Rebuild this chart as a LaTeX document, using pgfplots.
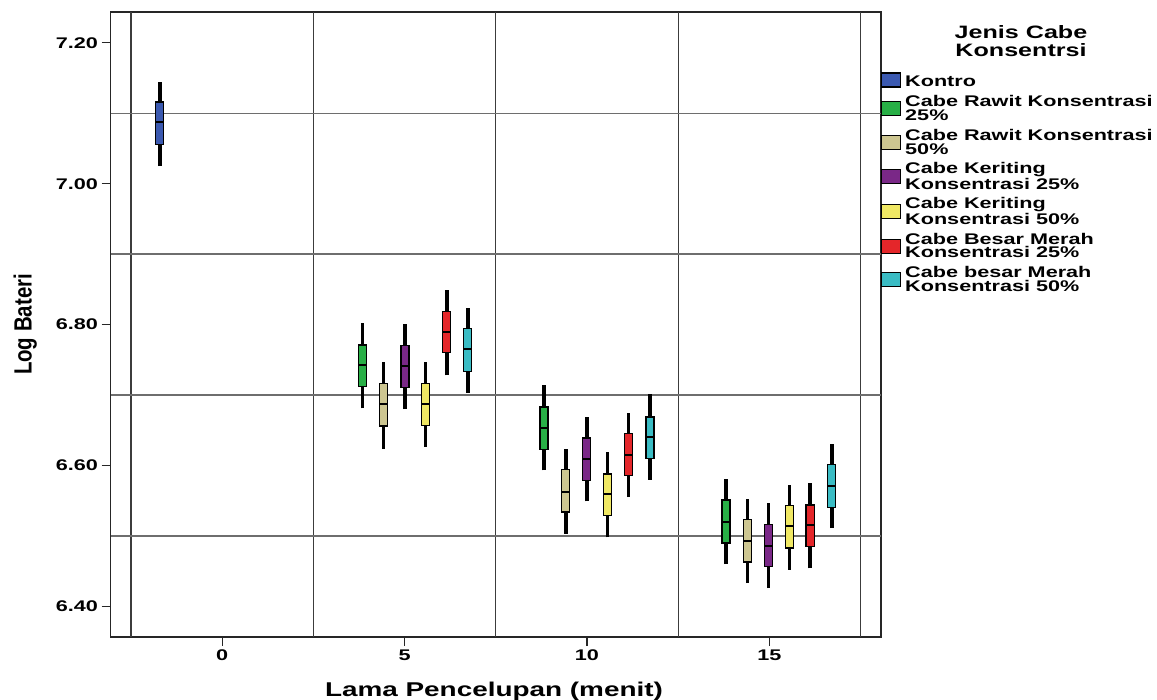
\documentclass[border=0pt]{standalone}
\usepackage{pgfplots}
\pgfplotsset{compat=1.18}
\usepackage{fontspec}
\setmainfont{Liberation Sans}[FakeStretch=1.4]
\newfontfamily\ylfont{Liberation Sans}[FakeStretch=0.82]
\definecolor{cBlue}{RGB}{59,89,176}
\definecolor{cGreen}{RGB}{40,175,70}
\definecolor{cTan}{RGB}{205,198,145}
\definecolor{cPurple}{RGB}{122,40,135}
\definecolor{cYellow}{RGB}{240,232,100}
\definecolor{cRed}{RGB}{228,38,42}
\definecolor{cCyan}{RGB}{58,188,196}
\definecolor{hgrid}{RGB}{110,110,110}
\definecolor{vgrid}{RGB}{60,60,60}
\lineskiplimit=-10pt
\pgfplotsset{
  sw/.style={legend image code/.code={\draw[black,line width=1.2bp,fill=#1] (0bp,-7bp) rectangle (18.5bp,7bp);}},
}
% box: position, lower whisker, lower quartile, median, upper quartile, upper whisker, colour
\newcommand\bxp[7]{%
  \pgfmathsetmacro\xa{#1-0.11}\pgfmathsetmacro\xb{#1+0.11}%
  \edef\tmp{%
    \noexpand\addplot[black, line width=3.5bp, forget plot] coordinates {(#1,#2) (#1,#6)};
    \noexpand\addplot[fill=#7, draw=black, line width=1.2bp, forget plot] coordinates {(\xa,#3) (\xb,#3) (\xb,#5) (\xa,#5)} -- cycle;
    \noexpand\addplot[black, line width=2bp, forget plot] coordinates {(\xa,#4) (\xb,#4)};
  }\tmp}
\begin{document}
\begin{tikzpicture}
\useasboundingbox (0,0) rectangle (1157bp,700bp);
\begin{axis}[
  at={(110.5bp,63bp)}, anchor=south west,
  scale only axis, width=770.5bp, height=625bp,
  xmin=-3.06, xmax=18.06, ymin=6.3566, ymax=7.2438,
  xtick={0,5,10,15}, ytick={6.4,6.6,6.8,7.0,7.2},
  /pgf/number format/assume math mode=true,
  yticklabel style={/pgf/number format/.cd, fixed, fixed zerofill, precision=2},
  ticklabel style={font=\bfseries\fontsize{15.5}{15.5}\selectfont},
  tick align=outside, tick pos=left, major tick length=9bp,
  tick style={black!85, line width=1.2bp},
  axis line style={black!85, line width=1.4bp},
  extra y ticks={6.5,6.7,6.9,7.1}, extra y tick labels={},
  extra y tick style={grid=major, major grid style={draw=hgrid, line width=1.4bp}, major tick length=0pt},
  extra x ticks={-2.5,2.5,7.5,12.5,17.5}, extra x tick labels={},
  extra x tick style={grid=major, major grid style={draw=vgrid, line width=1.3bp}, major tick length=0pt},
  xlabel={Lama Pencelupan (menit)},
  xlabel style={at={(axis description cs:0.4977,-0.0955)}, anchor=base, font=\bfseries\fontsize{20}{20}\selectfont},
  ylabel={\ylfont\bfseries\fontsize{25}{25}\selectfont Log Bateri},
  ylabel style={at={(axis description cs:-0.1023,0.5)}, anchor=base},
  legend cell align=left,
  legend style={at={(1,0.9069)}, anchor=north west, draw=none, fill=none, inner sep=0pt, outer sep=0pt, row sep=4bp, column sep=0bp, font=\bfseries\fontsize{15.5}{14}\selectfont, nodes={align=left, inner xsep=4.5bp, inner ysep=1.5bp}},
]
\addlegendimage{sw=cBlue}
\addlegendentry{Kontro\rule[-4bp]{0pt}{19.1bp}}
\addlegendimage{sw=cGreen}
\addlegendentry{Cabe Rawit Konsentrasi\\25\%}
\addlegendimage{sw=cTan}
\addlegendentry{Cabe Rawit Konsentrasi\\50\%}
\addlegendimage{sw=cPurple}
\addlegendentry{Cabe Keriting\\Konsentrasi 25\%}
\addlegendimage{sw=cYellow}
\addlegendentry{Cabe Keriting\\Konsentrasi 50\%}
\addlegendimage{sw=cRed}
\addlegendentry{Cabe Besar Merah\\Konsentrasi 25\%}
\addlegendimage{sw=cCyan}
\addlegendentry{Cabe besar Merah\\Konsentrasi 50\%}
% 0 min
\bxp{-1.71}{7.025}{7.056}{7.087}{7.116}{7.144}{cBlue}
% 5 min
\bxp{3.854}{6.681}{6.712}{6.742}{6.771}{6.802}{cGreen}
\bxp{4.419}{6.624}{6.656}{6.688}{6.716}{6.747}{cTan}
\bxp{5.014}{6.680}{6.711}{6.741}{6.770}{6.801}{cPurple}
\bxp{5.581}{6.627}{6.657}{6.688}{6.717}{6.747}{cYellow}
\bxp{6.157}{6.728}{6.760}{6.790}{6.819}{6.849}{cRed}
\bxp{6.733}{6.703}{6.734}{6.765}{6.794}{6.823}{cCyan}
% 10 min
\bxp{8.824}{6.593}{6.623}{6.653}{6.683}{6.714}{cGreen}
\bxp{9.419}{6.503}{6.534}{6.563}{6.594}{6.623}{cTan}
\bxp{9.995}{6.549}{6.579}{6.609}{6.639}{6.669}{cPurple}
\bxp{10.56}{6.498}{6.529}{6.559}{6.588}{6.619}{cYellow}
\bxp{11.135}{6.555}{6.586}{6.615}{6.645}{6.675}{cRed}
\bxp{11.73}{6.580}{6.610}{6.640}{6.669}{6.701}{cCyan}
% 15 min
\bxp{13.813}{6.460}{6.490}{6.520}{6.551}{6.581}{cGreen}
\bxp{14.397}{6.433}{6.463}{6.493}{6.523}{6.553}{cTan}
\bxp{14.973}{6.426}{6.457}{6.486}{6.516}{6.547}{cPurple}
\bxp{15.548}{6.452}{6.483}{6.514}{6.543}{6.573}{cYellow}
\bxp{16.116}{6.454}{6.485}{6.515}{6.544}{6.575}{cRed}
\bxp{16.71}{6.511}{6.540}{6.571}{6.601}{6.631}{cCyan}
\end{axis}
\node[anchor=base, font=\bfseries\fontsize{18}{18}\selectfont] at (1021bp,661bp) {Jenis Cabe};
\node[anchor=base, font=\bfseries\fontsize{18}{18}\selectfont] at (1021bp,643.3bp) {Konsentrsi};
\end{tikzpicture}
\end{document}
